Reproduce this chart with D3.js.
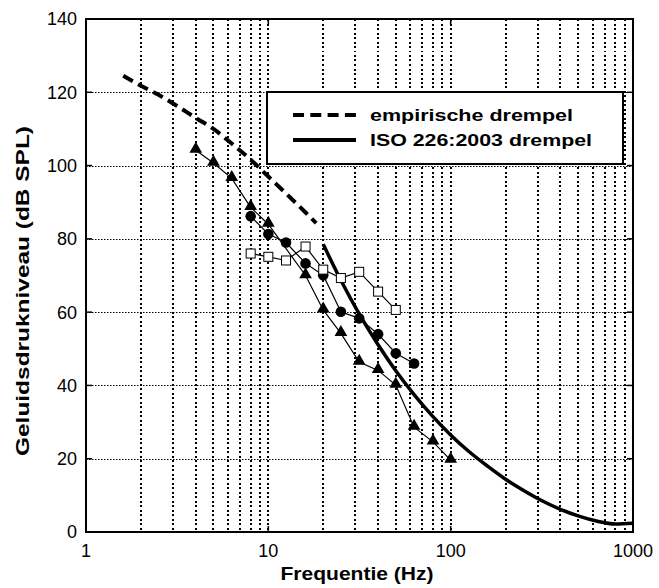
<!DOCTYPE html>
<html><head><meta charset="utf-8">
<script src="https://cdn.jsdelivr.net/npm/d3@7"></script>
<style>body{margin:0;background:#fff;} svg{display:block;font-family:"Liberation Sans",Arial,sans-serif;}</style>
</head><body>
<svg id="c" width="659" height="588"></svg>
<script>
// ---- data ----
const empFreq  = [1.6, 2, 2.5, 3.15, 4, 5, 6.3, 8, 10, 12.5, 16, 18.3];
const empLevel = [124.5, 121.8, 119.3, 116.3, 113, 110, 106, 101.6, 97, 92.4, 87.2, 84.3];
const isoFreq  = [20, 25, 31.5, 40, 50, 63, 80, 100, 125, 160, 200, 250, 315, 400, 500, 630, 800, 1000];
const isoLevel = [78.5, 68.7, 59.5, 51.1, 44.0, 37.5, 31.5, 26.5, 22.1, 17.9, 14.4, 11.4, 8.6, 6.2, 4.4, 3.0, 2.2, 2.4];
const triFreq  = [4, 5, 6.3, 8, 10, 16, 20, 25, 31.5, 40, 50, 63, 80, 100];
const triLevel = [104.2, 100.7, 96.5, 88.6, 84, 70, 60.6, 54.2, 46.4, 44.1, 40.1, 28.6, 24.6, 19.6];
const circFreq  = [8, 10, 12.5, 16, 20, 25, 31.5, 40, 50, 63];
const circLevel = [86.2, 81.3, 79, 73.3, 70.1, 60.1, 58.3, 54, 48.8, 46];
const sqFreq  = [8, 10, 12.5, 16, 20, 25, 31.5, 40, 50];
const sqLevel = [76, 75.1, 74.1, 77.9, 71.6, 69.3, 71, 65.6, 60.6];
const yTicks = [0, 20, 40, 60, 80, 100, 120, 140];
const xTicks = [1, 10, 100, 1000];
const xTickLabels = ["1", "10", "100", "1000"];
const legendLabels = ["empirische drempel", "ISO 226:2003 drempel"];
const xTitle = "Frequentie (Hz)";
const yTitle = "Geluidsdrukniveau (dB SPL)";

// ---- layout ----
const L = 86, R = 633, T = 19, B = 532;
const svg = d3.select("#c");
const x = d3.scaleLog().domain([1, 1000]).range([L, R]);
const y = d3.scaleLinear().domain([0, 140]).range([B, T]);

// grid
const minor = [];
[1, 10, 100].forEach(d => { for (let k = 2; k <= 10; k++) { const v = d * k; if (v < 1000) minor.push(v); } });
svg.append("g").selectAll("line").data(minor).join("line")
  .attr("x1", d => Math.round(x(d))).attr("x2", d => Math.round(x(d))).attr("y1", T).attr("y2", B)
  .attr("stroke", "#000").attr("stroke-width", 2).attr("stroke-dasharray", "2,2.5")
  .attr("shape-rendering", "crispEdges");
svg.append("g").selectAll("line").data(yTicks.filter(v => v > 0 && v < 140)).join("line")
  .attr("x1", L).attr("x2", R).attr("y1", d => Math.round(y(d)) + 0.5).attr("y2", d => Math.round(y(d)) + 0.5)
  .attr("stroke", "#000").attr("stroke-width", 1).attr("stroke-dasharray", "1.5,1.5");

// ticks (inward, all sides)
const tk = svg.append("g").attr("stroke", "#000").attr("stroke-width", 1.5);
yTicks.forEach(v => {
  tk.append("line").attr("x1", L).attr("x2", L + 6).attr("y1", y(v)).attr("y2", y(v));
  tk.append("line").attr("x1", R).attr("x2", R - 6).attr("y1", y(v)).attr("y2", y(v));
});
xTicks.forEach(v => {
  tk.append("line").attr("x1", x(v)).attr("x2", x(v)).attr("y1", B).attr("y2", B - 6);
  tk.append("line").attr("x1", x(v)).attr("x2", x(v)).attr("y1", T).attr("y2", T + 6);
});

// box
svg.append("rect").attr("x", L).attr("y", T).attr("width", R - L).attr("height", B - T)
  .attr("fill", "none").attr("stroke", "#000").attr("stroke-width", 2);

// tick labels
svg.append("g").selectAll("text").data(yTicks).join("text")
  .attr("x", 77).attr("y", d => y(d)).attr("dy", "0.36em").attr("text-anchor", "end")
  .attr("font-size", 18).text(d => d);
svg.append("g").selectAll("text").data(xTicks).join("text")
  .attr("x", d => x(d)).attr("y", 557).attr("text-anchor", "middle")
  .attr("font-size", 18).text((d, i) => xTickLabels[i]);

// axis titles
svg.append("text").attr("x", 357).attr("y", 580).attr("text-anchor", "middle")
  .attr("font-size", 18).attr("font-weight", "bold")
  .attr("textLength", 153).attr("lengthAdjust", "spacingAndGlyphs").text(xTitle);
svg.append("text").attr("transform", "translate(29,291) rotate(-90)").attr("text-anchor", "middle")
  .attr("font-size", 18).attr("font-weight", "bold")
  .attr("textLength", 330).attr("lengthAdjust", "spacingAndGlyphs").text(yTitle);

// curves
const pts = (f, l) => f.map((d, i) => [x(d), y(l[i])]);
const line = d3.line().curve(d3.curveMonotoneX);
const lin = d3.line();
svg.append("path").attr("d", line(pts(empFreq, empLevel))).attr("fill", "none")
  .attr("stroke", "#000").attr("stroke-width", 4).attr("stroke-dasharray", "11,6");
svg.append("path").attr("d", line(pts(isoFreq, isoLevel))).attr("fill", "none")
  .attr("stroke", "#000").attr("stroke-width", 3.5);

// measured series
svg.append("path").attr("d", lin(pts(triFreq, triLevel))).attr("fill", "none").attr("stroke", "#000").attr("stroke-width", 1.2);
svg.append("path").attr("d", lin(pts(circFreq, circLevel))).attr("fill", "none").attr("stroke", "#000").attr("stroke-width", 1.2);
svg.append("path").attr("d", lin(pts(sqFreq, sqLevel))).attr("fill", "none").attr("stroke", "#000").attr("stroke-width", 1.2);
const tri = d3.symbol().type(d3.symbolTriangle).size(70);
svg.append("g").selectAll("path").data(pts(triFreq, triLevel)).join("path")
  .attr("d", tri).attr("transform", d => `translate(${d[0]},${d[1] - 1})`).attr("fill", "#000");
svg.append("g").selectAll("circle").data(pts(circFreq, circLevel)).join("circle")
  .attr("cx", d => d[0]).attr("cy", d => d[1]).attr("r", 5.3).attr("fill", "#000");
svg.append("g").selectAll("rect").data(pts(sqFreq, sqLevel)).join("rect")
  .attr("x", d => d[0] - 4.5).attr("y", d => d[1] - 4.5).attr("width", 9).attr("height", 9)
  .attr("fill", "#fff").attr("stroke", "#000").attr("stroke-width", 1);

// legend
const lg = svg.append("g");
lg.append("rect").attr("x", 267).attr("y", 92).attr("width", 356).attr("height", 72)
  .attr("fill", "#fff").attr("stroke", "#000").attr("stroke-width", 2);
lg.append("line").attr("x1", 293).attr("x2", 356).attr("y1", 115).attr("y2", 115)
  .attr("stroke", "#000").attr("stroke-width", 4).attr("stroke-dasharray", "11,6.3");
lg.append("line").attr("x1", 293).attr("x2", 356).attr("y1", 140).attr("y2", 140)
  .attr("stroke", "#000").attr("stroke-width", 4);
const lw = [203, 222];
lg.selectAll("text").data(legendLabels).join("text")
  .attr("x", 370).attr("y", (d, i) => 121 + i * 25)
  .attr("font-size", 17).attr("font-weight", "bold")
  .attr("textLength", (d, i) => lw[i]).attr("lengthAdjust", "spacingAndGlyphs").text(d => d);
</script>
</body></html>
